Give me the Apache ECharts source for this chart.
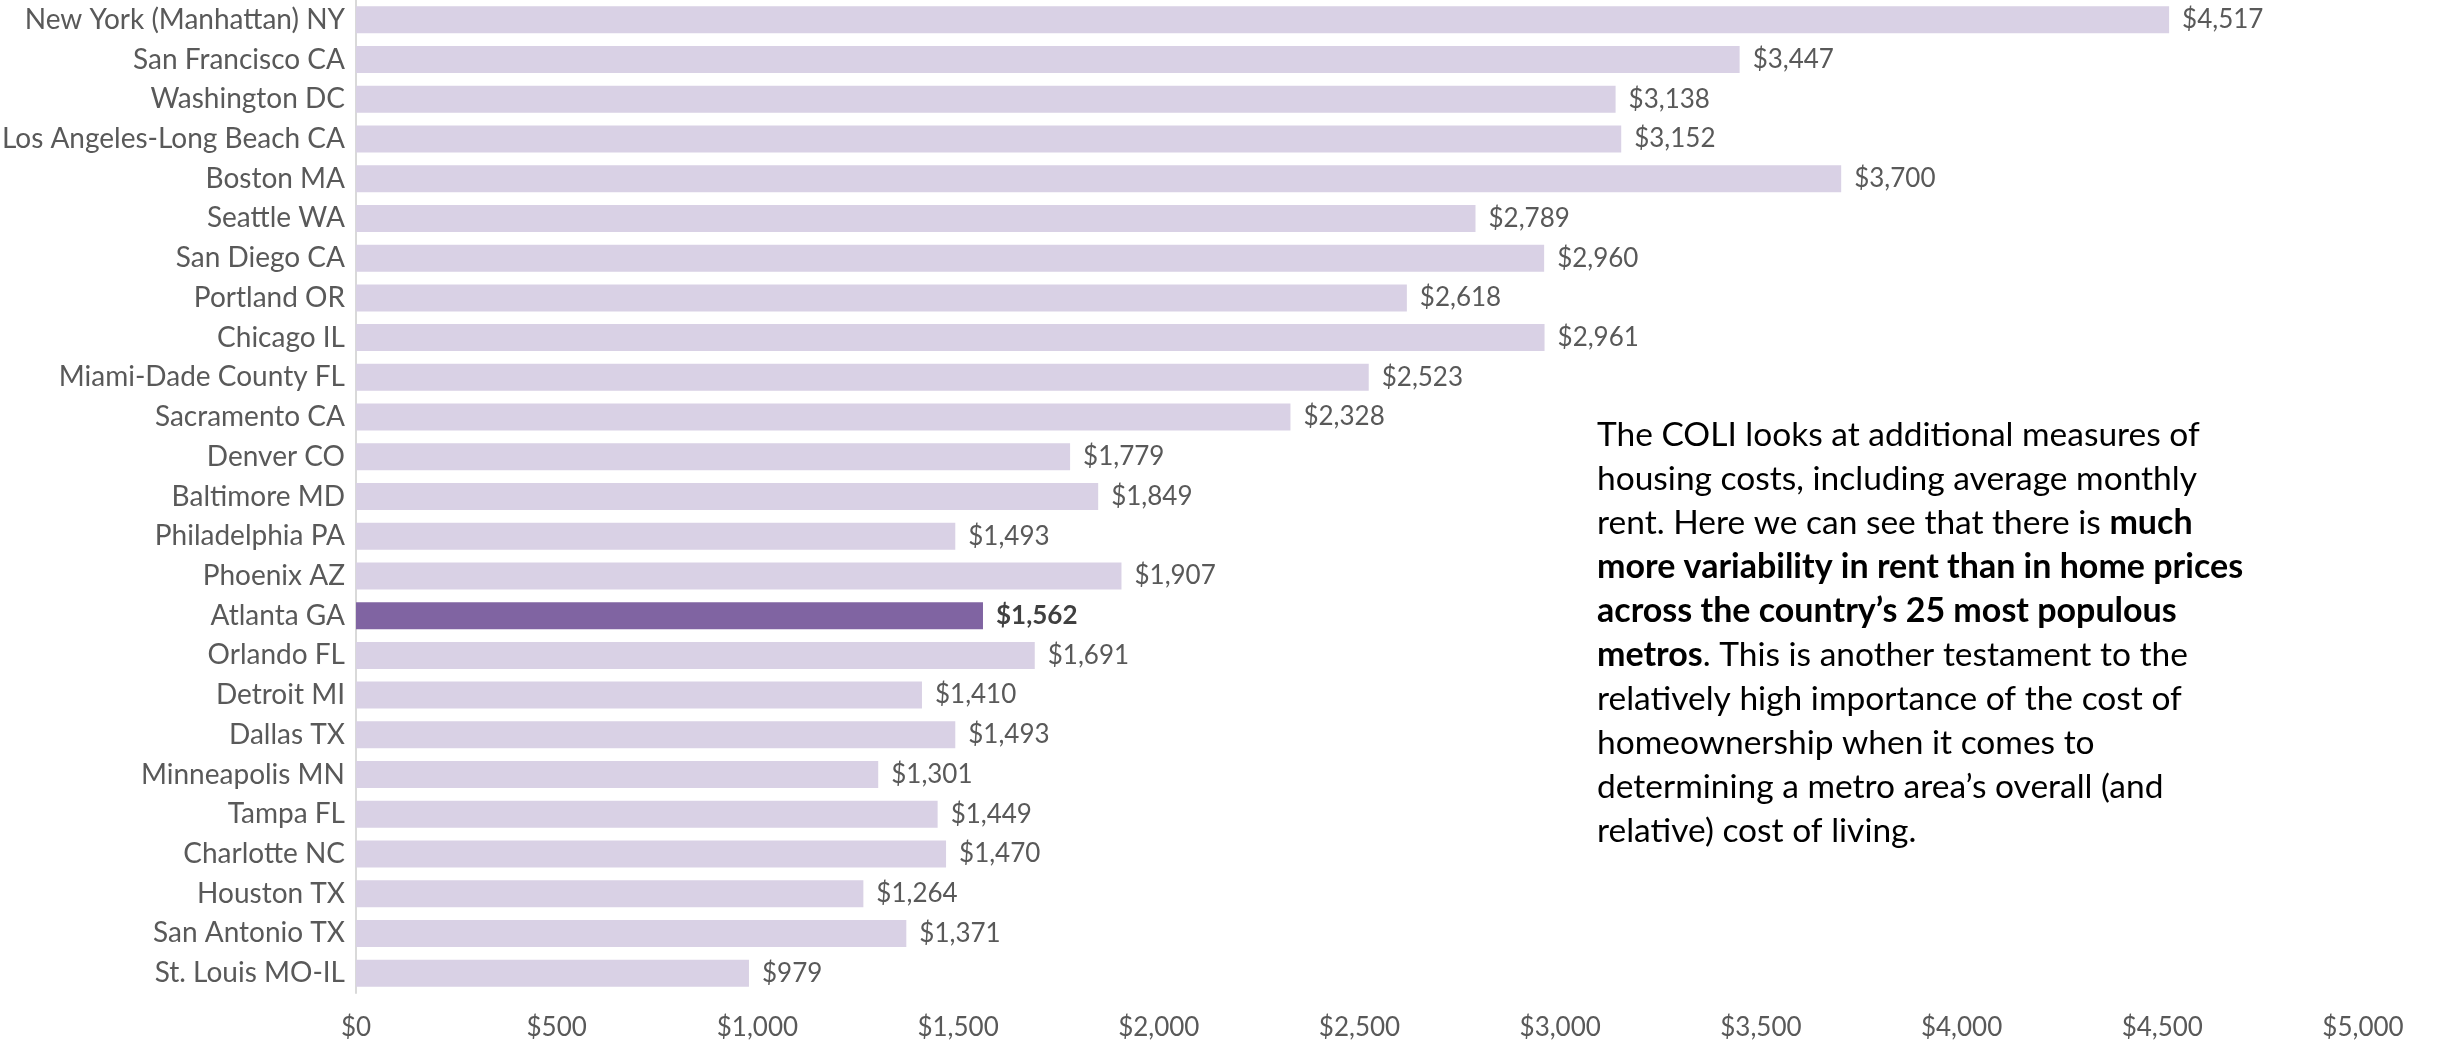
<!DOCTYPE html>
<html>
<head>
<meta charset="utf-8">
<script src="https://cdn.jsdelivr.net/npm/echarts@6/dist/echarts.min.js"></script>
<style>
  html, body { margin: 0; padding: 0; background: #fff; }
  #main { width: 2438px; height: 1044px; }
</style>
</head>
<body>
<div id="main"></div>
<script>
var metros = ['New York (Manhattan) NY', 'San Francisco CA', 'Washington DC', 'Los Angeles-Long Beach CA',
    'Boston MA', 'Seattle WA', 'San Diego CA', 'Portland OR', 'Chicago IL', 'Miami-Dade County FL',
    'Sacramento CA', 'Denver CO', 'Baltimore MD', 'Philadelphia PA', 'Phoenix AZ', 'Atlanta GA',
    'Orlando FL', 'Detroit MI', 'Dallas TX', 'Minneapolis MN', 'Tampa FL', 'Charlotte NC',
    'Houston TX', 'San Antonio TX', 'St. Louis MO-IL'];
var rent = [4517, 3447, 3138, 3152, 3700, 2789, 2960, 2618, 2961, 2523, 2328, 1779, 1849, 1493,
    1907, 1562, 1691, 1410, 1493, 1301, 1449, 1470, 1264, 1371, 979];
var highlight = 'Atlanta GA';

var fontFam = 'Lato';
function money(v) {
    return '$' + Number(v).toLocaleString('en-US');
}

var chartDom = document.getElementById('main');
var myChart = echarts.init(chartDom);

var barData = rent.map(function (v, i) {
    if (metros[i] === highlight) {
        return {
            value: v,
            itemStyle: { color: '#8064a2' },
            label: { fontWeight: 'bold', color: '#404040' }
        };
    }
    return v;
});

var option = {
    animation: false,
    textStyle: { fontFamily: fontFam },
    grid: { left: 356, right: 75, top: 0, height: 993, containLabel: false, outerBoundsMode: 'none' },
    xAxis: {
        type: 'value',
        min: 0,
        max: 5000,
        interval: 500,
        axisLine: { show: false },
        axisTick: { show: false },
        splitLine: { show: false },
        axisLabel: {
            formatter: money,
            color: '#595959',
            fontSize: 26,
            fontFamily: fontFam,
            margin: 22
        }
    },
    yAxis: {
        type: 'category',
        inverse: true,
        data: metros,
        axisLine: { lineStyle: { color: '#d9d9d9', width: 2 } },
        axisTick: { show: false },
        axisLabel: {
            color: '#595959',
            fontSize: 28,
            fontFamily: fontFam,
            margin: 11
        }
    },
    series: [{
        type: 'bar',
        data: barData,
        barCategoryGap: '32%',
        itemStyle: { color: '#d9d1e5' },
        label: {
            show: true,
            position: 'right',
            distance: 13,
            formatter: function (p) { return money(p.value); },
            color: '#595959',
            fontSize: 26,
            fontFamily: fontFam
        }
    }],
    graphic: [{
        type: 'text',
        left: 1597,
        top: 413,
        style: {
            text: [
                'The COLI looks at additional measures of',
                'housing costs, including average monthly',
                'rent. Here we can see that there is {b|much}',
                '{b|more variability in rent than in home prices}',
                '{b|across the country’s 25 most populous}',
                '{b|metros}. This is another testament to the',
                'relatively high importance of the cost of',
                'homeownership when it comes to',
                'determining a metro area’s overall (and',
                'relative) cost of living.'
            ].join('\n'),
            fontFamily: fontFam,
            fontSize: 33.5,
            lineHeight: 44,
            fill: '#000',
            rich: {
                b: { fontWeight: 'bold', fontFamily: fontFam, fontSize: 34, lineHeight: 44, fill: '#000' }
            }
        }
    }]
};

option && myChart.setOption(option);
</script>
</body>
</html>
